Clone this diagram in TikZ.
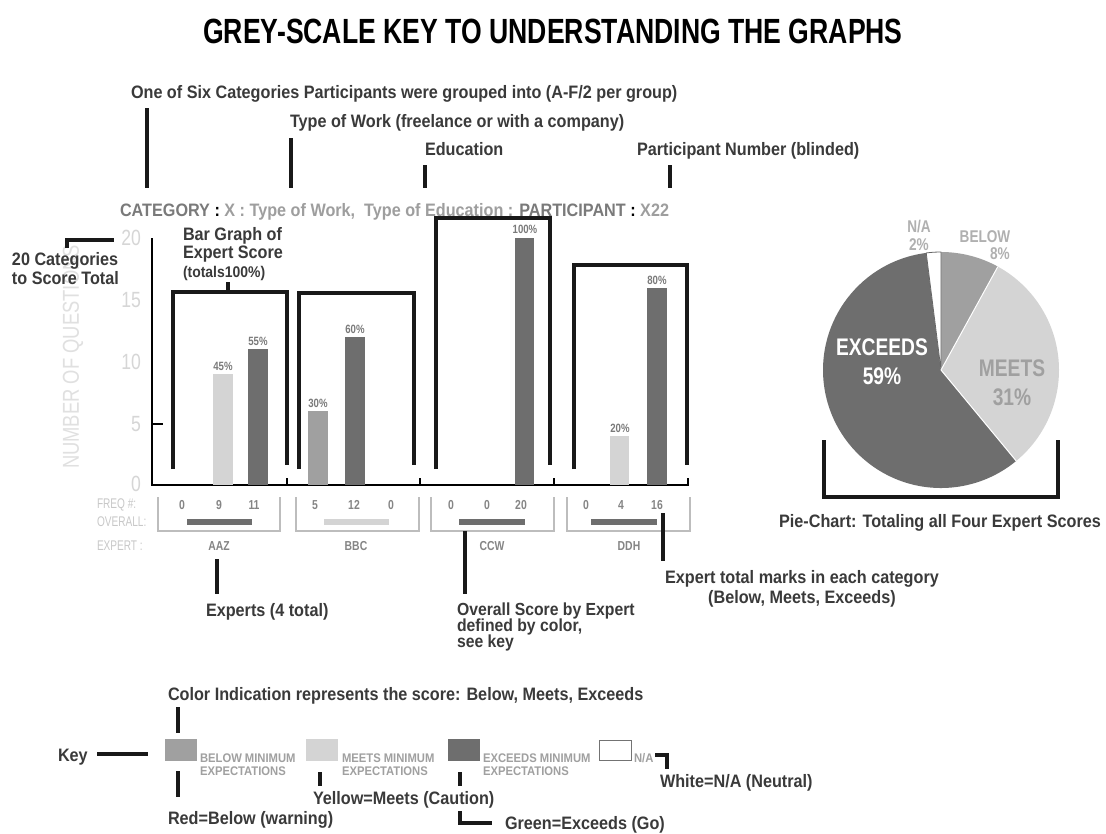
\documentclass[tikz,border=0pt]{standalone}
\usepackage{fontspec}
\setmainfont{Liberation Sans}[FakeStretch=0.8]
\newfontfamily\narrowfont{Liberation Sans}[FakeStretch=0.72]
\newfontfamily\annfont{Liberation Sans}[FakeStretch=0.9]
\newfontfamily\titlefont{Liberation Sans}[FakeStretch=0.76]
\newcommand\fsz[1]{\fontsize{#1}{#1}\selectfont}

\definecolor{ink}{HTML}{3A3A3A}
\definecolor{barlight}{HTML}{D4D4D4}
\definecolor{barmid}{HTML}{A0A0A0}
\definecolor{bardark}{HTML}{6E6E6E}
\definecolor{axisgrey}{HTML}{D6D6D6}
\definecolor{rowgrey}{HTML}{C8C8C8}
\definecolor{numgrey}{HTML}{858585}
\definecolor{catdark}{HTML}{7A7A7A}
\definecolor{catlight}{HTML}{9E9E9E}
\definecolor{boxgrey}{HTML}{BDBDBD}
\definecolor{pielab}{HTML}{B0B0B0}

\begin{document}
\begin{tikzpicture}[x=1pt,y=-1pt,
  every node/.style={inner sep=0pt,outer sep=0pt},
  txt/.style={anchor=base west,text=ink,font=\annfont\bfseries\fsz{18}},
  bk/.style={line width=4pt,draw=black!90},
  pct/.style={anchor=base,text=catdark,font=\bfseries\fsz{12}},
  ylab/.style={anchor=east,text=axisgrey,font=\fsz{22}},
  rowlab/.style={anchor=west,text=rowgrey,font=\narrowfont\fsz{14}},
  freq/.style={text=numgrey,font=\bfseries\fsz{13}},
  expert/.style={text=numgrey,font=\bfseries\fsz{13}},
  grp/.style={draw=boxgrey,line width=1.2pt},
  keylab/.style={anchor=base west,text=barmid,font=\annfont\bfseries\fsz{12.5}},
  pielabel/.style={anchor=base,text=pielab,font=\bfseries\fsz{17}}]
\useasboundingbox (0,0) rectangle (1106,833);
\fill[white] (0,0) rectangle (1106,833);

% ---------- title ----------
\node[font=\titlefont\bfseries\fsz{35}] (title) at (553,31) {GREY-SCALE KEY TO UNDERSTANDING THE GRAPHS};

% ---------- labels for the heading string ----------
\node[txt] (six) at (131,98) {One of Six Categories Participants were grouped into (A-F/2 per group)};
\node[txt] (work) at (290,127) {Type of Work (freelance or with a company)};
\node[txt] (edu) at (425,155) {Education};
\node[txt] (part) at (637,155) {Participant Number (blinded)};
\node[anchor=base west,font=\annfont\bfseries\fsz{18}] (head) at (120,216)
  {\color{catdark}CATEGORY \color{black}: \color{catlight}X : Type of Work,\ \ Type of Education : \color{catdark}PARTICIPANT \color{black}: \color{catlight}X22};

\coordinate (h1) at (147,108); \coordinate (h1b) at (147,188);
\coordinate (h2) at (291,138); \coordinate (h2b) at (291,188);
\coordinate (h3) at (425,165); \coordinate (h3b) at (425,188);
\coordinate (h4) at (670,165); \coordinate (h4b) at (670,188);
\draw[bk] (h1) -- (h1b);
\draw[bk] (h2) -- (h2b);
\draw[bk] (h3) -- (h3b);
\draw[bk] (h4) -- (h4b);

% ---------- axes ----------
\node[rotate=90,text=black!12,font=\fsz{23}] (ytitle) at (73,357) {NUMBER OF QUESTIONS};
\coordinate (o) at (152,485);
\coordinate (ytop) at (152,238);
\coordinate (xend) at (689,485);
\draw[line width=1.8pt] (ytop) -- (o) -- (xend);
\draw[line width=1.5pt] (152,424) -- (163,424);
\foreach \t in {287,420,554,688} \draw[line width=1.5pt] (\t,485) -- (\t,478);
\node[ylab] (y20) at (141,238) {20};
\node[ylab] (y15) at (141,300) {15};
\node[ylab] (y10) at (141,362) {10};
\node[ylab] (y5)  at (141,424) {5};
\node[ylab] (y0)  at (141,484) {0};

% ---------- bars ----------
\fill[barlight] (213,374) rectangle (233,485);
\fill[bardark]  (248,349) rectangle (268,485);
\fill[barmid]   (308,411) rectangle (328,485);
\fill[bardark]  (345,337) rectangle (365,485);
\fill[bardark]  (515,238) rectangle (534,485);
\fill[barlight] (610,436) rectangle (629,485);
\fill[bardark]  (647,288) rectangle (667,485);
\node[pct] (p1) at (223,370) {45\%};
\node[pct] (p2) at (258,345) {55\%};
\node[pct] (p3) at (318,407) {30\%};
\node[pct] (p4) at (355,333) {60\%};
\node[pct] (p5) at (525,233) {100\%};
\node[pct] (p6) at (620,432) {20\%};
\node[pct] (p7) at (657,284) {80\%};

% ---------- brackets over each expert ----------
\draw[bk] (173,469) -- (173,292) -- (287,292) -- (287,465);
\draw[bk] (299,469) -- (299,293) -- (414,293) -- (414,465);
\draw[bk] (436,469) -- (436,218) -- (550,218) -- (550,465);
\draw[bk] (574,469) -- (574,265) -- (687,265) -- (687,465);
\node[txt] (bg1) at (183,240) {Bar Graph of};
\node[txt] (bg2) at (183,258) {Expert Score};
\node[txt,font=\annfont\bfseries\fsz{15.5}] (bg3) at (183,277) {(totals100\%)};
\coordinate (bgs) at (228,292);
\coordinate (bgt) at (228,282);
\draw[bk] (bgs) -- (bgt);

\node[txt] (cat1) at (12,265) {20 Categories};
\node[txt] (cat2) at (12,284) {to Score Total};
\coordinate (c20a) at (67,248); \coordinate (c20b) at (67,240); \coordinate (c20c) at (114,240);
\draw[bk] (c20a) -- (c20b) -- (c20c);

% ---------- table ----------
\node[rowlab] (rfreq) at (97,505) {FREQ \#:};
\node[rowlab] (rover) at (97,522) {OVERALL:};
\node[rowlab] (rexp) at (97,546) {EXPERT :};
\draw[grp] (158,497) -- (158,531) -- (280,531) -- (280,497);
\draw[grp] (296,497) -- (296,531) -- (419,531) -- (419,497);
\draw[grp] (431,497) -- (431,531) -- (554,531) -- (554,497);
\draw[grp] (567,497) -- (567,531) -- (690,531) -- (690,497);
\foreach \x/\v in {182/0,219/9,254/11,315/5,354/12,391/0,451/0,487/0,521/20,586/0,621/4,657/16}
  \node[freq] at (\x,505) {\v};
\fill[bardark]  (187,519) rectangle (252,525);
\fill[barlight] (324,519) rectangle (389,525);
\fill[bardark]  (459,519) rectangle (525,525);
\fill[bardark]  (591,519) rectangle (657,525);
\node[expert] (aaz) at (219,546) {AAZ};
\node[expert] (bbc) at (356,546) {BBC};
\node[expert] (ccw) at (492,546) {CCW};
\node[expert] (ddh) at (629,546) {DDH};

% ---------- notes under the table ----------
\node[txt] (experts) at (206,616) {Experts (4 total)};
\coordinate (e1) at (217,559); \coordinate (e2) at (217,594);
\draw[bk] (e1) -- (e2);
\node[txt,font=\annfont\bfseries\fsz{17.5}] (ov1t) at (457,615) {Overall Score by Expert};
\node[txt,font=\annfont\bfseries\fsz{17.5}] (ov2t) at (457,631) {defined by color,};
\node[txt,font=\annfont\bfseries\fsz{17.5}] (ov3t) at (457,647) {see key};
\coordinate (ov1) at (465,531); \coordinate (ov2) at (465,594);
\draw[bk] (ov1) -- (ov2);
\node[txt,anchor=base] (marks1) at (802,583) {Expert total marks in each category};
\node[txt,anchor=base] (marks2) at (802,603) {(Below, Meets, Exceeds)};
\coordinate (m1) at (663,513); \coordinate (m2) at (663,561);
\draw[bk] (m1) -- (m2);

% ---------- pie chart ----------
\begin{scope}[shift={(941,370)},yscale=-1]
  \fill[bardark]  (0,0) -- (97.2:118) arc[start angle=97.2,end angle=309.6,radius=118] -- cycle;
  \fill[barlight] (0,0) -- (-50.4:118) arc[start angle=-50.4,end angle=61.2,radius=118] -- cycle;
  \fill[barmid]   (0,0) -- (61.2:118) arc[start angle=61.2,end angle=90,radius=118] -- cycle;
  \draw[black!60,line width=0.8pt,fill=white] (0,0) -- (90:118) arc[start angle=90,end angle=97.2,radius=118] -- cycle;
  \draw[white,line width=1pt] (0,0) -- (61.2:118) (0,0) -- (-50.4:118);
\end{scope}
\node[anchor=base,text=white,font=\bfseries\fsz{24}] (exc1) at (882,355) {EXCEEDS};
\node[anchor=base,text=white,font=\bfseries\fsz{24}] (exc2) at (882,384) {59\%};
\node[anchor=base,text=barmid,font=\bfseries\fsz{24}] (meet1) at (1012,376) {MEETS};
\node[anchor=base,text=barmid,font=\bfseries\fsz{24}] (meet2) at (1012,405) {31\%};
\node[pielabel] (na1) at (919,232) {N/A};
\node[pielabel] (na2) at (919,250) {2\%};
\node[pielabel] (bl1) at (985,242) {BELOW};
\node[pielabel] (bl2) at (1000,259) {8\%};
\draw[bk] (824,440) -- (824,497) -- (1058,497) -- (1058,440);
\node[txt,anchor=base] (piecap) at (940,527) {Pie-Chart: Totaling all Four Expert Scores};

% ---------- colour key ----------
\node[txt] (colind) at (168,700) {Color Indication represents the score: Below, Meets, Exceeds};
\node[txt] (key) at (58,761) {Key};
\coordinate (k1) at (97,754); \coordinate (k2) at (148,754);
\draw[bk] (k1) -- (k2);
\fill[barmid]   (165,739) rectangle (197,761);
\fill[barlight] (306,739) rectangle (338,761);
\fill[bardark]  (448,739) rectangle (480,761);
\draw[black!55,line width=1pt,fill=white] (599,740) rectangle (631,760);
\node[keylab] (kb1) at (200,762) {BELOW MINIMUM};
\node[keylab] (kb2) at (200,775) {EXPECTATIONS};
\node[keylab] (km1) at (342,762) {MEETS MINIMUM};
\node[keylab] (km2) at (342,775) {EXPECTATIONS};
\node[keylab] (ke1) at (483,762) {EXCEEDS MINIMUM};
\node[keylab] (ke2) at (483,775) {EXPECTATIONS};
\node[keylab] (kn) at (634,762) {N/A};
\coordinate (ci1) at (178,707); \coordinate (ci2) at (178,733);
\draw[bk] (ci1) -- (ci2);
\coordinate (rb1) at (178,771); \coordinate (rb2) at (178,797);
\draw[bk] (rb1) -- (rb2);
\node[txt] (red) at (168,824) {Red=Below (warning)};
\coordinate (ym1) at (320,772); \coordinate (ym2) at (320,786);
\draw[bk] (ym1) -- (ym2);
\node[txt] (yellow) at (313,804) {Yellow=Meets (Caution)};
\coordinate (gx1) at (460,772); \coordinate (gx2) at (460,786);
\draw[bk] (gx1) -- (gx2);
\coordinate (gl1) at (460,811); \coordinate (gl2) at (460,823); \coordinate (gl3) at (492,823);
\draw[bk] (gl1) -- (gl2) -- (gl3);
\node[txt] (green) at (505,829) {Green=Exceeds (Go)};
\coordinate (n1) at (655,755); \coordinate (n2) at (667,755); \coordinate (n3) at (667,769);
\draw[bk] (n1) -- (n2) -- (n3);
\node[txt] (white) at (660,787) {White=N/A (Neutral)};
\end{tikzpicture}
\end{document}
